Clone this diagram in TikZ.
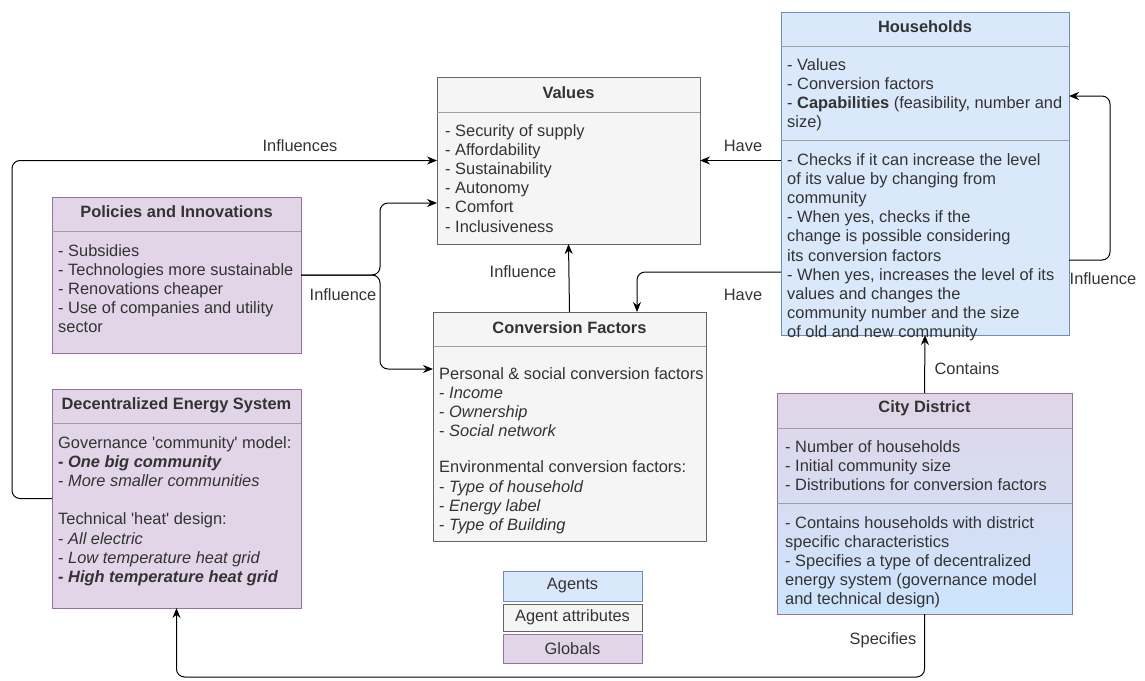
\documentclass[tikz,border=0pt]{standalone}
\usepackage{fontspec}
\setmainfont{Liberation Sans}
\usetikzlibrary{arrows.meta,calc}
\definecolor{bluefill}{HTML}{DAE8FC}
\definecolor{bluestroke}{HTML}{6C8EBF}
\definecolor{greyfill}{HTML}{F5F5F5}
\definecolor{greystroke}{HTML}{666666}
\definecolor{purplefill}{HTML}{E1D5E7}
\definecolor{purplestroke}{HTML}{9673A6}
\definecolor{txt}{HTML}{333333}
\definecolor{cityblue}{HTML}{CCE5FF}
\definecolor{sepcol}{HTML}{A0A0A0}
\newcommand{\sq}{\textquotesingle}
\begin{document}
\begin{tikzpicture}[x=1pt,y=-1pt,
  box/.style={draw, line width=1pt, inner sep=0pt, outer sep=0pt, anchor=north west},
  agent/.style={box, fill=bluefill, draw=bluestroke},
  attr/.style={box, fill=greyfill, draw=greystroke},
  global/.style={box, fill=purplefill, draw=purplestroke},
  sepline/.style={line width=1pt, draw=sepcol},
  head/.style={font=\fontsize{16.4}{19.2}\selectfont\bfseries, text=txt, inner sep=0pt},
  body/.style={font=\fontsize{16.4}{19.2}\selectfont, text=txt, align=left, anchor=north west, inner sep=0pt},
  lbl/.style={font=\fontsize{16.4}{19.2}\selectfont, text=txt, inner sep=0pt},
  legtext/.style={font=\fontsize{16.4}{19.2}\selectfont, text=txt},
  conn/.style={line width=1pt, rounded corners=8pt, -{Stealth[length=10pt,width=8pt]}},
]
\useasboundingbox (0,0) rectangle (1145,680);

% ---------- boxes ----------
\node[attr, minimum width=263pt, minimum height=167pt] (values) at (437,77) {};
\draw[sepline] (437,112) -- (700,112);
\node[head] (valuesh) at (568.5,93) {Values};
\node[body] (valuesb) at (445,124) {- Security of supply\\- Affordability\\- Sustainability\\- Autonomy\\- Comfort\\- Inclusiveness};

\node[agent, minimum width=288pt, minimum height=323pt] (households) at (781,12) {};
\draw[sepline] (781,46) -- (1069,46);
\draw[sepline] (781,140) -- (1069,140);
\node[head] (householdsh) at (925,27) {Households};
\node[body] (householdsb1) at (787,58) {- Values\\- Conversion factors\\- \textbf{Capabilities} (feasibility, number and\\size)};
\node[body] (householdsb2) at (787,153) {- Checks if it can increase the level\\of its value by changing from\\community\\- When yes, checks if the\\change is possible considering\\its conversion factors\\- When yes, increases the level of its\\values and changes the\\community number and the size\\of old and new community};

\node[global, minimum width=249pt, minimum height=156pt] (policies) at (52,197) {};
\draw[sepline] (52,231) -- (301,231);
\node[head] (policiesh) at (176.5,212) {Policies and Innovations};
\node[body] (policiesb) at (58,244) {- Subsidies\\- Technologies more sustainable\\- Renovations cheaper\\- Use of companies and utility\\sector};

\node[global, minimum width=249pt, minimum height=219pt] (des) at (52,389) {};
\draw[sepline] (52,423) -- (301,423);
\node[head] (desh) at (176.5,405) {Decentralized Energy System};
\node[body] (desb) at (58,436) {Governance \sq community\sq{} model:\\\textbf{- \textit{One big community}}\\- \textit{More smaller communities}\\[19.2pt]Technical \sq heat\sq{} design:\\- \textit{All electric}\\- \textit{Low temperature heat grid}\\\textbf{- \textit{High temperature heat grid}}};

\node[attr, minimum width=273pt, minimum height=229pt] (cf) at (433,312) {};
\draw[sepline] (433,346) -- (706,346);
\node[head] (cfh) at (569.5,328) {Conversion Factors};
\node[body] (cfb) at (439,367) {Personal \& social conversion factors\\- \textit{Income}\\- \textit{Ownership}\\- \textit{Social network}\\[17pt]Environmental conversion factors:\\- \textit{Type of household}\\- \textit{Energy label}\\- \textit{Type of Building}};

\node[box, draw=purplestroke, top color=purplefill, bottom color=cityblue, minimum width=295pt, minimum height=221pt] (city) at (777,393) {};
\draw[sepline] (777,428) -- (1072,428);
\draw[sepline] (777,503) -- (1072,503);
\node[head] (cityh) at (924.5,408) {City District};
\node[body] (cityb1) at (785,440) {- Number of households\\- Initial community size\\- Distributions for conversion factors};
\node[body] (cityb2) at (785,516) {- Contains households with district\\specific characteristics\\- Specifies a type of decentralized\\energy system (governance model\\and technical design)};

% ---------- legend ----------
\node[agent, minimum width=139pt, minimum height=30pt] (legagents) at (503,571) {};
\node[legtext] at (legagents.center) {Agents};
\node[attr, minimum width=139pt, minimum height=27pt] (legattr) at (503,604) {};
\node[legtext] at (legattr.center) {Agent attributes};
\node[global, minimum width=139pt, minimum height=29pt] (legglob) at (503,634) {};
\node[legtext] at (legglob.center) {Globals};

% ---------- helper coordinates ----------
\coordinate (leftx) at (12,0);
\coordinate (splitx) at (380,0);
\coordinate (pv) at ($(values.north west)+(0,126)$);
\coordinate (pc) at ($(cf.north west)+(0,57)$);
\coordinate (h2) at ($(households.north west)+(0,260)$);
\coordinate (cfin) at ($(cf.north west)+(204,0)$);
\coordinate (h3) at ($(households.north east)+(0,248)$);
\coordinate (h4) at ($(households.north east)+(0,84)$);
\coordinate (loopx) at (1110,0);
\coordinate (bot) at (0,677);

% ---------- connectors ----------
\draw[conn] (des.west) -- (des.west -| leftx) -- (values.west -| leftx) -- (values.west);
\draw[conn] (policies.east) -- (policies.east -| splitx) -- (pv -| splitx) -- (pv);
\draw[conn] (policies.east) -- (policies.east -| splitx) -- (pc -| splitx) -- (pc);
\draw[conn] (cf.north) -- (values.south);
\draw[conn] (households.west |- values.east) -- (values.east);
\draw[conn] (h2) -| (cfin);
\draw[conn] (h3) -- (h3 -| loopx) -- (h4 -| loopx) -- (h4);
\draw[conn] (city.north) -- (households.south);
\draw[conn] (city.south) -- (city.south |- bot) -- (des.south |- bot) -- (des.south);

% ---------- labels ----------
\node[lbl] (l1) at (300,146) {Influences};
\node[lbl] (l2) at (343,295) {Influence};
\node[lbl] (l3) at (523,272) {Influence};
\node[lbl] (l4) at (743,146) {Have};
\node[lbl] (l5) at (743,295) {Have};
\node[lbl] (l6) at (1103,279) {Influence};
\node[lbl] (l7) at (967,369) {Contains};
\node[lbl] (l8) at (883,640) {Specifies};
\end{tikzpicture}
\end{document}
